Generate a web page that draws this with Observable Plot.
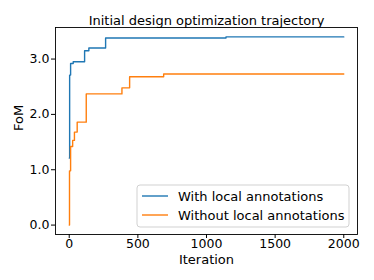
<!DOCTYPE html>
<html><head><meta charset="utf-8">
<script src="https://cdn.jsdelivr.net/npm/d3@7"></script>
<script src="https://cdn.jsdelivr.net/npm/@observablehq/plot@0.6"></script>
<style>
body{margin:0;background:#fff}
svg{font-family:"DejaVu Sans",sans-serif}
g[aria-label="x-axis tick label"], g[aria-label="y-axis tick label"]{font-size:12.5px !important}
g[aria-label="x-axis tick label"] text, g[aria-label="y-axis tick label"] text{font-size:12.5px !important}
</style>
</head><body><div id="chart"></div>
<script>
const title = "Initial design optimization trajectory";
const xLabel = "Iteration";
const yLabel = "FoM";
const seriesNames = ["With local annotations", "Without local annotations"];
const seriesColors = ["#1f77b4", "#ff7f0e"];
const xTicks = [0, 500, 1000, 1500, 2000];
const yTicks = [0, 1, 2, 3];

// step points: iteration, FoM
const withIter = [0, 3, 10, 29, 112, 143, 265, 1142, 2000];
const withFoM  = [1.21, 2.71, 2.92, 2.95, 3.15, 3.20, 3.38, 3.40, 3.40];
const withoutIter = [0, 2, 10, 25, 38, 58, 124, 384, 440, 688, 2000];
const withoutFoM  = [0.0, 0.98, 1.42, 1.53, 1.68, 1.86, 2.37, 2.48, 2.68, 2.73, 2.73];

const data = [
  ...withIter.map((x, i) => ({x, y: withFoM[i], s: seriesNames[0]})),
  ...withoutIter.map((x, i) => ({x, y: withoutFoM[i], s: seriesNames[1]}))
];

const W = 374, H = 280;
const mL = 55, mR = 17, mT = 27, mB = 46;
const fs = 12.5;

const plot = Plot.plot({
  width: W, height: H,
  marginLeft: mL, marginRight: mR, marginTop: mT, marginBottom: mB,
  style: {fontFamily: "DejaVu Sans", fontSize: fs + "px", color: "#000", background: "#fff"},
  x: {domain: [-100, 2100]},
  y: {domain: [-0.17, 3.57]},
  color: {domain: seriesNames, range: seriesColors},
  marks: [
    Plot.axisX({ticks: xTicks, tickSize: 4, tickPadding: 1, label: null, tickFormat: d => String(d), fontSize: fs, stroke: "#000", fill: "#000"}),
    Plot.axisY({ticks: yTicks, tickSize: 4, tickPadding: 2, label: null, tickFormat: d3.format(".1f"), fontSize: fs, stroke: "#000", fill: "#000"}),
    Plot.line(data, {x: "x", y: "y", z: "s", stroke: "s", curve: "step-after", strokeWidth: 1.4}),
    Plot.frame({stroke: "#000", strokeWidth: 0.9}),
    Plot.text([title], {text: d => d, frameAnchor: "top", dy: -12, fontSize: 13, fill: "#000"}),
    Plot.text([xLabel], {text: d => d, frameAnchor: "bottom", dy: 29, fontSize: 13, fill: "#000"}),
    Plot.text([yLabel], {text: d => d, frameAnchor: "left", dx: -37, rotate: -90, fontSize: 13, fill: "#000"})
  ]
});
document.getElementById("chart").append(plot);

// legend
const svg = d3.select(plot);
const lg = svg.append("g").attr("text-anchor", "start");
const lx = 137, ly = 185, lw = 212, lh = 42;
lg.append("rect").attr("x", lx).attr("y", ly).attr("width", lw).attr("height", lh)
  .attr("rx", 3).attr("fill", "#fff").attr("fill-opacity", 0.8).attr("stroke", "#ccc").attr("stroke-width", 0.9);
seriesNames.forEach((name, i) => {
  const yy = 196 + i * 19;
  lg.append("line").attr("x1", 142).attr("x2", 168).attr("y1", yy).attr("y2", yy)
    .attr("stroke", seriesColors[i]).attr("stroke-width", 1.4);
  lg.append("text").attr("x", 178).attr("y", yy).attr("dy", "0.35em")
    .attr("font-size", 13).attr("fill", "#000").attr("text-anchor", "start").text(name);
});
</script></body></html>
